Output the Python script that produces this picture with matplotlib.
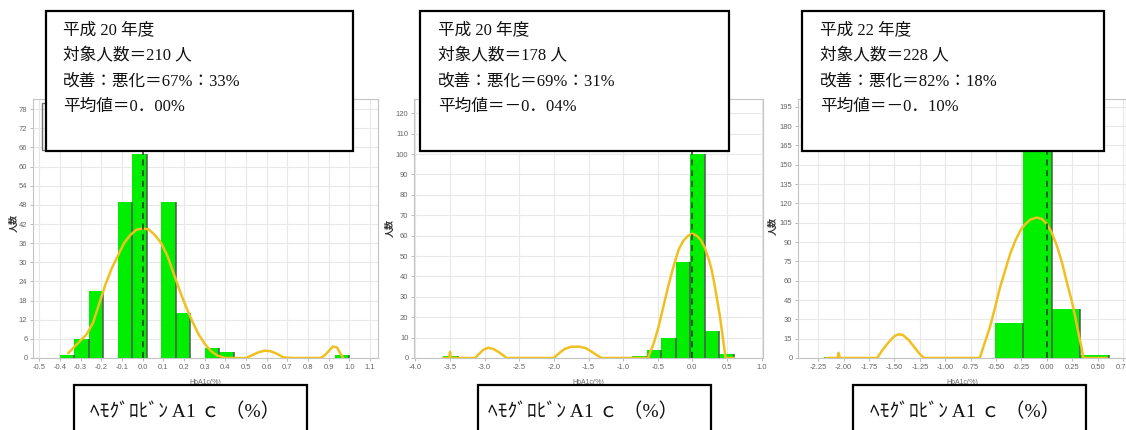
import numpy as np
import matplotlib.pyplot as plt
from matplotlib.patches import Rectangle

plt.rcParams['axes.unicode_minus'] = False

W, H = 1126, 430
JP = ['Liberation Serif', 'Noto Sans CJK JP']
TICKFONT = ['Liberation Sans Narrow', 'Liberation Sans']

# HbA1c 変化量の度数分布（ビン下限, 上限, ビン数）と度数
bins1 = (-0.40, 1.00, 20)
counts1 = [1, 6, 21, 0, 49, 64, 0, 49, 14, 0, 3, 2, 0, 0, 0, 0, 0, 0, 0, 1]
bins2 = (-3.60, 0.60, 20)
counts2 = [1, 0, 0, 0, 0, 0, 0, 0, 0, 0, 0, 0, 0, 1, 4, 10, 47, 100, 13, 2]
bins3 = (-2.19, 0.61, 10)
counts3 = [1, 0, 0, 0, 0, 0, 27, 160, 38, 2]

# 平滑化曲線
curve1_x = [-0.36, -0.33, -0.30, -0.27, -0.24, -0.21, -0.18, -0.15, -0.12, -0.09, -0.06, -0.03,
            0.00, 0.03, 0.06, 0.09, 0.12, 0.15, 0.18, 0.21, 0.24, 0.27, 0.30, 0.33, 0.36, 0.40,
            0.45, 0.50, 0.53, 0.56, 0.59, 0.62, 0.65, 0.68, 0.72, 0.80, 0.86, 0.88, 0.90, 0.92,
            0.94, 0.955, 0.97]
curve1_y = [1.5, 3.5, 5.5, 7.5, 11, 17, 23, 28, 32, 36, 38.5, 40.2,
            40.6, 40.3, 38.5, 36, 32, 26.5, 21, 16, 11.5, 7.5, 4.5, 2.2, 0.8, 0,
            0, 0, 0.9, 1.8, 2.3, 2.1, 1.3, 0.2, 0, 0, 0, 0.8, 2.2, 3.6,
            3.3, 1.5, 0]
curve2_x = [-3.60, -3.51, -3.50, -3.49, -3.14, -3.08, -3.02, -2.95, -2.88, -2.80, -2.72, -2.68,
            -2.00, -1.92, -1.84, -1.75, -1.65, -1.55, -1.45, -1.36, -1.31,
            -0.64, -0.56, -0.49, -0.42, -0.35, -0.28, -0.20, -0.13, -0.06, 0.00, 0.06, 0.12,
            0.18, 0.24, 0.28, 0.32, 0.36, 0.40, 0.44, 0.48, 0.60]
curve2_y = [0, 0, 3, 0, 0, 2, 4, 5, 4.5, 3, 1, 0,
            0, 2.5, 4.5, 5.5, 5.6, 5, 3, 1, 0,
            0, 7, 15, 25, 35, 44, 53, 57.5, 60, 61, 60, 58,
            54, 48, 43, 36, 28, 20, 10, 0, 0]
curve3_x = [-2.17, -2.06, -2.05, -2.04, -1.67, -1.62, -1.56, -1.50, -1.46, -1.42, -1.36, -1.30,
            -1.25, -1.21, -0.66, -0.61, -0.56, -0.51, -0.46, -0.41, -0.36, -0.31, -0.26, -0.21,
            -0.16, -0.10, -0.05, 0.00, 0.05, 0.10, 0.15, 0.20, 0.25, 0.29, 0.32, 0.345, 0.36, 0.59]
curve3_y = [0, 0, 4, 0, 0, 6, 12, 17, 18.4, 18, 14, 8,
            3, 0, 0, 12, 24, 39, 55, 68, 81, 91, 99, 104,
            107.5, 109, 108, 104, 97, 87, 74, 58, 43, 28, 16, 7, 0, 0]

# 目盛
xticks1 = [-0.5, -0.4, -0.3, -0.2, -0.1, 0.0, 0.1, 0.2, 0.3, 0.4, 0.5, 0.6, 0.7, 0.8, 0.9, 1.0, 1.1]
xticks2 = [-4.0, -3.5, -3.0, -2.5, -2.0, -1.5, -1.0, -0.5, 0.0, 0.5, 1.0]
xticks3 = [-2.25, -2.00, -1.75, -1.50, -1.25, -1.00, -0.75, -0.50, -0.25, 0.00, 0.25, 0.50, 0.75]
yticks1 = list(range(0, 79, 6))
yticks2 = list(range(0, 121, 10))
yticks3 = list(range(0, 196, 15))

# 集計テキスト
info1 = ['平成 20 年度', '対象人数＝210 人', '改善：悪化＝67%：33%', '平均値＝0．00%']
info2 = ['平成 20 年度', '対象人数＝178 人', '改善：悪化＝69%：31%', '平均値＝－0．04%']
info3 = ['平成 22 年度', '対象人数＝228 人', '改善：悪化＝82%：18%', '平均値＝－0．10%']
xtitle = 'ﾍﾓｸﾞﾛﾋﾞﾝ A1 ｃ （%）'

fig = plt.figure(figsize=(W / 100, H / 100), dpi=100)


def px_axes(left, top, right, bottom):
    return fig.add_axes([left / W, 1 - bottom / H, (right - left) / W, (bottom - top) / H])


def px_rect(x0, y0, x1, y1, **kw):
    r = Rectangle((x0 / W, 1 - y1 / H), (x1 - x0) / W, (y1 - y0) / H,
                  transform=fig.transFigure, **kw)
    fig.add_artist(r)


def panel(box, xlim, ylim, bins, counts, cx, cy, xticks, yticks, fmt, ylab_dx, ylab_y):
    left, top, right, bottom = box
    ax = px_axes(left, top, right, bottom)
    edges = np.linspace(bins[0], bins[1], bins[2] + 1)
    counts = np.array(counts)
    ax.bar(edges[:-1], counts, width=np.diff(edges), align='edge',
           color='#00ee00', linewidth=0, zorder=2)
    nz = counts > 0
    ax.vlines(edges[1:][nz], 0, counts[nz], colors='#4d5a4d', lw=1.1, zorder=2)
    ax.plot(cx, cy, color='#f0c020', lw=1.8, solid_capstyle='round', zorder=3)
    ax.axvline(0, color='#1c3a1c', ls=(0, (4, 3)), lw=1.1, zorder=4)
    ax.set_xlim(*xlim)
    ax.set_ylim(*ylim)
    ax.set_xticks(xticks)
    ax.set_xticklabels([fmt.format(t) for t in xticks])
    ax.set_yticks(yticks)
    ax.grid(True, color='#e8e8e8', lw=0.8)
    ax.set_axisbelow(True)
    for s in ax.spines.values():
        s.set_color('#c4c4c4')
        s.set_linewidth(0.8)
    ax.tick_params(length=2, width=0.6, color='#b0b0b0', labelsize=5.5,
                   labelcolor='#666666', pad=2)
    for lab in ax.get_xticklabels() + ax.get_yticklabels():
        lab.set_family(TICKFONT)
    w = right - left
    h = bottom - top
    ax.text(ylab_dx / w, ylab_y, '人数', transform=ax.transAxes, rotation=90,
            ha='center', va='center', fontsize=6.5, fontweight='bold',
            color='#333333', family=['Noto Sans CJK JP'])
    ax.text(0.5, -25 / h, 'HbA1c(%)', transform=ax.transAxes, ha='center', va='center',
            fontsize=5, color='#666666', family=TICKFONT)
    return ax


panel((33, 99, 378, 358), (-0.53, 1.138), (0, 81.2), bins1, counts1, curve1_x, curve1_y,
      xticks1, yticks1, '{:.1f}', -19, 0.52)
panel((414, 99, 763, 358), (-4.02, 1.02), (0, 127), bins2, counts2, curve2_x, curve2_y,
      xticks2, yticks2, '{:.1f}', -24, 0.50)
panel((798, 99, 1126, 358), (-2.45, 0.78), (0, 201), bins3, counts3, curve3_x, curve3_y,
      xticks3, yticks3, '{:.2f}', -25, 0.51)

# 凡例枠の一部（集計ボックスの背後）
px_rect(42, 103, 80, 150, facecolor='none', edgecolor='#707070', lw=1.0, zorder=9)

# 集計ボックス
for (x0, x1, tx), info in zip([(46, 353, 63), (420, 729, 438), (802, 1104, 820)],
                              [info1, info2, info3]):
    px_rect(x0, 11, x1, 151, facecolor='white', edgecolor='black', lw=1.6, zorder=10)
    for i, line in enumerate(info):
        fig.text(tx / W, 1 - (30 + 25.8 * i) / H, line, ha='left', va='center',
                 fontsize=12, family=JP, color='#111111', zorder=11)

# 横軸タイトルのボックス
for x0, x1, tx in [(74, 307, 90), (478, 711, 488), (853, 1086, 870)]:
    px_rect(x0, 385, x1, 445, facecolor='white', edgecolor='black', lw=1.6, zorder=10)
    fig.text(tx / W, 1 - 412 / H, xtitle, ha='left', va='center',
             fontsize=14, family=JP, color='#111111', zorder=11)

fig.savefig('out.png', dpi=100)
